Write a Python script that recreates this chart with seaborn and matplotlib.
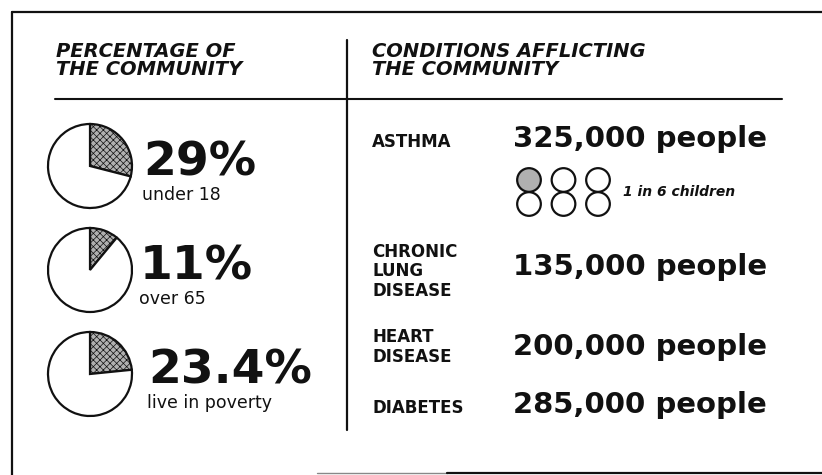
import matplotlib
matplotlib.use('Agg')
import matplotlib.pyplot as plt
import numpy as np
import pandas as pd
import seaborn as sns

# ─── DATA ────────────────────────────────────────────────────────────────────
pct_values   = [29, 11, 23.4]
pct_labels   = ['29%', '11%', '23.4%']
pct_captions = ['under 18', 'over 65', 'live in poverty']

conditions = ['ASTHMA', 'CHRONIC\nLUNG\nDISEASE', 'HEART\nDISEASE', 'DIABETES']
people     = [325000, 135000, 200000, 285000]

children_affected, children_total = 1, 6
children_note = '1 in 6 children'

header_left  = ['PERCENTAGE OF', 'THE COMMUNITY']
header_right = ['CONDITIONS AFFLICTING', 'THE COMMUNITY']

# ─── STYLE ───────────────────────────────────────────────────────────────────
sns.set_theme(style='white')
plt.rcParams['font.family'] = ['DejaVu Sans']
plt.rcParams['hatch.linewidth'] = 0.5

INK   = '#111111'
SHADE = '#b0b0b0'

fig = plt.figure(figsize=(8.22, 4.75), dpi=100)
ax = fig.add_axes([0, 0, 1, 1])
ax.set_xlim(0, 822)
ax.set_ylim(475, 0)
ax.axis('off')

# frame and rules
ax.plot([12, 822], [12, 12], color=INK, lw=1.6)
ax.plot([12, 12], [12, 475], color=INK, lw=1.6)
ax.plot([317, 447], [473, 473], color='#888888', lw=1.0)
ax.plot([447, 822], [473, 473], color=INK, lw=1.6)
ax.plot([55, 782], [99, 99], color=INK, lw=1.5)
ax.plot([347, 347], [40, 430], color=INK, lw=1.6)

# headers
for i, (l, r) in enumerate(zip(header_left, header_right)):
    ax.text(56, 57 + i * 18, l, fontsize=14, fontweight='bold', style='italic',
            color=INK, va='baseline', ha='left')
    ax.text(372, 57 + i * 18, r, fontsize=14, fontweight='bold', style='italic',
            color=INK, va='baseline', ha='left')

# ─── LEFT: pies ──────────────────────────────────────────────────────────────
pie_cy = [166, 270, 374]
num_x  = [143, 140, 148]
R = 42
for v, lab, cap, cy, nx in zip(pct_values, pct_labels, pct_captions, pie_cy, num_x):
    pad = R * 1.06
    pax = fig.add_axes([(90 - pad) / 822, 1 - (cy + pad) / 475, 2 * pad / 822, 2 * pad / 475])
    wedges, _ = pax.pie([v, 100 - v], startangle=90, counterclock=False,
                        colors=[SHADE, 'white'], radius=1,
                        wedgeprops={'edgecolor': INK, 'linewidth': 1.6})
    wedges[0].set_hatch('xxxxx')
    pax.set_xlim(-1.06, 1.06)
    pax.set_ylim(-1.06, 1.06)
    pax.set_aspect('equal')
    pax.axis('off')

    ax.text(nx, cy + 10, lab, fontsize=34, fontweight='bold', color=INK,
            va='baseline', ha='left')
    ax.text(nx - 1, cy + 34, cap, fontsize=12.5, color=INK, va='baseline', ha='left')

# ─── RIGHT: conditions ───────────────────────────────────────────────────────
label_base = [147, 257, 342, 413]
value_base = [147, 275, 355, 413]
line_step  = [0, 19.5, 19.5, 0]
for cond, n, lb, vb, st in zip(conditions, people, label_base, value_base, line_step):
    for j, line in enumerate(cond.split('\n')):
        ax.text(372, lb + j * st, line, fontsize=12, fontweight='bold', color=INK,
                va='baseline', ha='left')
    ax.text(513, vb, f'{n:,} people', fontsize=21, fontweight='bold', color=INK,
            va='baseline', ha='left')

# 1-in-6 icon grid
idx = np.arange(children_total)
icons = pd.DataFrame({
    'x': 529 + (idx % 3) * 34.5,
    'y': 180 + (idx // 3) * 24,
    'state': np.where(idx < children_affected, 'affected', 'not'),
})
sns.scatterplot(data=icons, x='x', y='y', hue='state',
                palette={'affected': SHADE, 'not': 'white'},
                s=290, edgecolor=INK, linewidth=1.6, legend=False, ax=ax)
ax.set_xlim(0, 822)
ax.set_ylim(475, 0)
ax.axis('off')
ax.text(623, 196, children_note, fontsize=10, fontweight='bold', style='italic',
        color=INK, va='baseline', ha='left')

plt.savefig('out.png', dpi=100, facecolor='white')
plt.close()
